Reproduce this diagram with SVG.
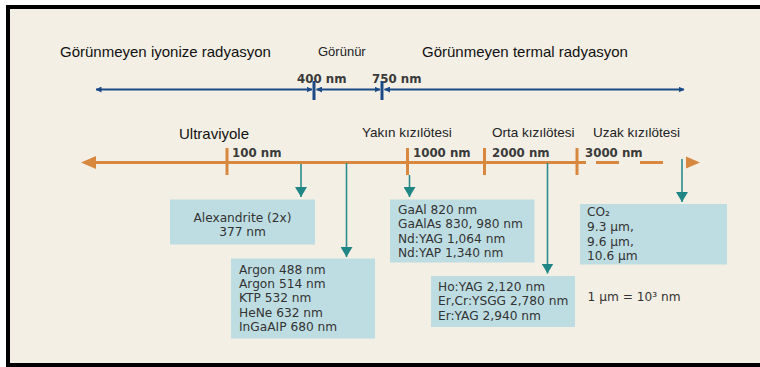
<svg xmlns="http://www.w3.org/2000/svg" width="760" height="367" viewBox="0 0 760 367">
<defs>
<style>
.title{font-family:"Liberation Sans",Arial,sans-serif;font-size:15px;fill:#111}
.sub{font-family:"Liberation Sans",Arial,sans-serif;font-size:13.5px;fill:#222}
.nm{font-family:"DejaVu Sans",Verdana,sans-serif;font-size:11.8px;font-weight:bold;fill:#3a3a3a}
.bx{font-family:"DejaVu Sans",Verdana,sans-serif;font-size:12.2px;fill:#333}
.box{fill:#BEDDE2}
.blue{stroke:#1B4A86;stroke-width:2;fill:none}
.btick{stroke:#1B4A86;stroke-width:3}
.orange{stroke:#D8873F;stroke-width:3;fill:none}
.teal{stroke:#2A8C8C;stroke-width:1.6;fill:none;marker-end:url(#th)}
</style>
<marker id="th" viewBox="0 0 10 12" refX="10" refY="6" markerUnits="userSpaceOnUse" markerWidth="10" markerHeight="12" orient="auto">
<path d="M0,0 L10,6 L0,12 Z" fill="#1F8585"/>
</marker>
<marker id="bh" viewBox="0 0 6 6" refX="5.5" refY="3" markerUnits="userSpaceOnUse" markerWidth="6" markerHeight="6" orient="auto-start-reverse">
<path d="M0,0 L6,3 L0,6 Z" fill="#1B4A86"/>
</marker>
</defs>
<rect x="0" y="0" width="760" height="367" fill="#fff"/>
<rect x="6" y="5" width="760" height="362" fill="#000"/>
<rect x="10" y="9" width="760" height="354" fill="#F3EFE5"/>

<g id="top-labels">
<text class="title" x="60" y="57">Görünmeyen iyonize radyasyon</text>
<text class="sub" x="318" y="56" style="font-size:13px">Görünür</text>
<text class="title" x="422" y="57">Görünmeyen termal radyasyon</text>
<text class="nm" x="297" y="83">400 nm</text>
<text class="nm" x="372" y="83">750 nm</text>
</g>

<g id="blue-scale">
<line class="blue" x1="96" y1="89.5" x2="312" y2="89.5" marker-start="url(#bh)" marker-end="url(#bh)"/>
<line class="blue" x1="316.5" y1="89.5" x2="380" y2="89.5" marker-start="url(#bh)" marker-end="url(#bh)"/>
<line class="blue" x1="384.5" y1="89.5" x2="684" y2="89.5" marker-start="url(#bh)" marker-end="url(#bh)"/>
<line class="btick" x1="314" y1="81" x2="314" y2="100"/>
<line class="btick" x1="382" y1="81" x2="382" y2="100"/>
</g>

<g id="orange-scale">
<line class="orange" x1="94" y1="162.5" x2="586" y2="162.5"/>
<line class="orange" x1="596" y1="162.5" x2="619" y2="162.5"/>
<line class="orange" x1="640" y1="162.5" x2="663" y2="162.5"/>
<path d="M81,162.5 L96,156 L96,169 Z" fill="#D8873F"/>
<path d="M686,156.5 L700,162.5 L686,168.5 Z" fill="#D8873F"/>
<line class="orange" x1="227" y1="148" x2="227" y2="175"/>
<line class="orange" x1="407.5" y1="148" x2="407.5" y2="175"/>
<line class="orange" x1="484.5" y1="148" x2="484.5" y2="175"/>
<line class="orange" x1="577" y1="148" x2="577" y2="175"/>
<text class="title" x="179" y="139">Ultraviyole</text>
<text class="sub" x="362" y="137">Yakın kızılötesi</text>
<text class="sub" x="492" y="137">Orta kızılötesi</text>
<text class="sub" x="593" y="137">Uzak kızılötesi</text>
<text class="nm" x="232" y="157">100 nm</text>
<text class="nm" x="413" y="157">1000 nm</text>
<text class="nm" x="492" y="157">2000 nm</text>
<text class="nm" x="585" y="157">3000 nm</text>
</g>

<g id="connectors">
<line class="teal" x1="301" y1="164" x2="301" y2="197"/>
<line class="teal" x1="346.5" y1="163" x2="346.5" y2="257"/>
<line class="teal" x1="409.5" y1="175" x2="409.5" y2="197"/>
<line class="teal" x1="547.5" y1="163" x2="547.5" y2="273.5"/>
<line class="teal" x1="682" y1="159" x2="682" y2="202"/>
</g>

<g id="alexandrite">
<rect class="box" x="170" y="199.5" width="145" height="45"/>
<text class="bx" x="242.5" y="222" text-anchor="middle">Alexandrite (2x)</text>
<text class="bx" x="242.5" y="235.5" text-anchor="middle">377 nm</text>
</g>

<g id="argon">
<rect class="box" x="231" y="258.5" width="144" height="80"/>
<text class="bx" x="239" y="273.5">Argon 488 nm</text>
<text class="bx" x="239" y="288">Argon 514 nm</text>
<text class="bx" x="239" y="302">KTP 532 nm</text>
<text class="bx" x="239" y="316.5">HeNe 632 nm</text>
<text class="bx" x="239" y="331">InGaAIP 680 nm</text>
</g>

<g id="gaal">
<rect class="box" x="390" y="199.5" width="144.5" height="63"/>
<text class="bx" x="398" y="213.5">GaAl 820 nm</text>
<text class="bx" x="398" y="228">GaAlAs 830, 980 nm</text>
<text class="bx" x="398" y="242.5">Nd:YAG 1,064 nm</text>
<text class="bx" x="398" y="257">Nd:YAP 1,340 nm</text>
</g>

<g id="hoyag">
<rect class="box" x="431" y="276" width="144" height="51"/>
<text class="bx" x="438" y="291">Ho:YAG 2,120 nm</text>
<text class="bx" x="438" y="305">Er,Cr:YSGG 2,780 nm</text>
<text class="bx" x="438" y="319.5">Er:YAG 2,940 nm</text>
</g>

<g id="co2">
<rect class="box" x="580" y="204" width="147" height="60.5"/>
<text class="bx" x="587" y="216">CO₂</text>
<text class="bx" x="587" y="231">9.3 µm,</text>
<text class="bx" x="587" y="245.5">9.6 µm,</text>
<text class="bx" x="587" y="260">10.6 µm</text>
</g>

<g id="note">
<text class="bx" x="587.5" y="301">1 µm = 10³ nm</text>
</g>
</svg>
